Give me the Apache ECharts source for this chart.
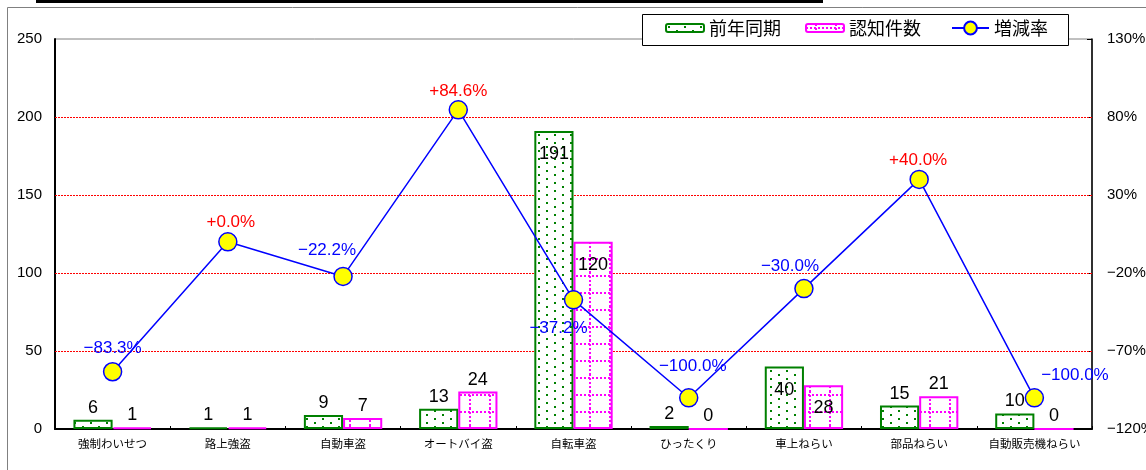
<!DOCTYPE html>
<html><head><meta charset="utf-8">
<script src="https://cdn.jsdelivr.net/npm/echarts@6/dist/echarts.min.js"></script>
<style>html,body{margin:0;padding:0;background:#fff;}#c{width:1146px;height:470px;}</style>
</head><body><div id="c"></div>
<script>
const categories = ['強制わいせつ','路上強盗','自動車盗','オートバイ盗','自転車盗','ひったくり','車上ねらい','部品ねらい','自動販売機ねらい'];
const prevYear = [6, 1, 9, 13, 191, 2, 40, 15, 10];
const recognized = [1, 1, 7, 24, 120, 0, 28, 21, 0];
const changeRate = [-83.3, 0.0, -22.2, 84.6, -37.2, -100.0, -30.0, 40.0, -100.0];
const seriesNames = ['前年同期', '認知件数', '増減率'];
const leftTicks = [0, 50, 100, 150, 200, 250];

function greenPattern() {
  const c = document.createElement('canvas'); c.width = 16; c.height = 8;
  const g = c.getContext('2d');
  g.fillStyle = '#fff'; g.fillRect(0, 0, 16, 8);
  g.fillStyle = '#008000';
  g.fillRect(2, 2, 2, 2); g.fillRect(10, 6, 2, 2);
  return { image: c, repeat: 'repeat' };
}
function magentaPattern() {
  const c = document.createElement('canvas'); c.width = 20; c.height = 17;
  const g = c.getContext('2d');
  g.fillStyle = '#fff'; g.fillRect(0, 0, 20, 17);
  g.fillStyle = '#FF00FF';
  for (let y = 0; y < 17; y += 4) g.fillRect(9, y, 2, 2);
  for (let x = 0; x < 20; x += 4) g.fillRect(x, 3, 2, 2);
  return { image: c, repeat: 'repeat' };
}

const numFont = '"Liberation Sans", Arial, sans-serif';
const jpFont = '"Noto Sans CJK JP", sans-serif';

function fmtPct(v) {
  return (v >= 0 ? '+' : '\u2212') + Math.abs(v).toFixed(1) + '%';
}
const lineLabelCfg = [
  { position: 'top', offset: [0, 0] },
  { position: 'top', offset: [3, 4] },
  { position: 'top', offset: [-16, -3] },
  { position: 'top', offset: [0, 5] },
  { position: 'bottom', offset: [-15, 5] },
  { position: 'top', offset: [4, -8] },
  { position: 'top', offset: [-14, 1] },
  { position: 'top', offset: [-1, 4] },
  { position: 'right', offset: [-8, -22] }
];

function barData(arr) {
  return arr.map(v => ({
    value: v,
    label: v > 25 ? { position: 'insideTop', distance: 14 } : { position: 'top', distance: 3 }
  }));
}

const chart = echarts.init(document.getElementById('c'), null, { renderer: 'canvas' });
chart.setOption({
  animation: false,
  backgroundColor: '#fff',
  graphic: [
    { type: 'rect', z: 0, shape: { x: 36, y: 0, width: 787, height: 3 }, style: { fill: '#000' } },
    { type: 'rect', z: 0, shape: { x: 7.5, y: 7.5, width: 1300, height: 600 }, style: { fill: 'none', stroke: '#808080', lineWidth: 1 } },
    { type: 'rect', z: 5, shape: { x: 642.5, y: 14.5, width: 426, height: 31 }, style: { fill: '#fff', stroke: '#000', lineWidth: 1 } }
  ],
  legend: [
    {
      z: 10, left: 665, top: 19, padding: 0, itemWidth: 38, itemHeight: 8, itemGap: 24,
      data: [seriesNames[0], seriesNames[1]],
      textStyle: { fontFamily: jpFont, fontSize: 18, color: '#000' }
    },
    {
      z: 10, left: 951, top: 19, padding: 0, itemWidth: 37, itemHeight: 16,
      data: [seriesNames[2]],
      textStyle: { fontFamily: jpFont, fontSize: 18, color: '#000' }
    }
  ],
  grid: { left: 55, right: 54, top: 39, bottom: 41, outerBoundsMode: 'none', containLabel: false,
    show: true, borderColor: '#808080', borderWidth: 1, backgroundColor: 'transparent' },
  xAxis: {
    type: 'category', data: categories,
    axisLine: { lineStyle: { color: '#000', width: 2 } },
    axisTick: { show: true, inside: true, length: 3, lineStyle: { color: '#000' } },
    axisLabel: { fontFamily: jpFont, fontSize: 11.5, color: '#000', margin: 9, interval: 0 },
    splitLine: { show: false }
  },
  yAxis: [
    {
      type: 'value', min: leftTicks[0], max: leftTicks[leftTicks.length - 1], interval: 50,
      axisLine: { show: true, lineStyle: { color: '#000', width: 2 } },
      axisTick: { show: false },
      axisLabel: { fontFamily: numFont, fontSize: 15, color: '#000', margin: 13 },
      splitLine: { show: false }
    },
    {
      type: 'value', min: -120, max: 130, interval: 50,
      axisLine: { show: true, lineStyle: { color: '#000', width: 1.5 } },
      axisTick: { show: true, inside: true, length: 5, lineStyle: { color: '#000' } },
      axisLabel: { fontFamily: numFont, fontSize: 15, color: '#000', margin: 15,
        formatter: v => String(v).replace('-', '\u2212') + '%' },
      splitLine: { show: false }
    }
  ],
  series: [
    {
      name: seriesNames[0], type: 'bar', yAxisIndex: 0, data: barData(prevYear),
      barGap: '0%', barCategoryGap: '32%',
      itemStyle: { color: greenPattern(), borderColor: '#008000', borderWidth: 2 },
      label: { show: true, color: '#000', fontFamily: numFont, fontSize: 18 },
      markLine: {
        silent: true, symbol: 'none', z: 1, animation: false,
        label: { show: false },
        lineStyle: { color: '#FF0000', type: [2, 1], width: 1 },
        emphasis: { disabled: true },
        data: leftTicks.slice(1, -1).map(t => ({ yAxis: t }))
      }
    },
    {
      name: seriesNames[1], type: 'bar', yAxisIndex: 0, data: barData(recognized),
      itemStyle: { color: magentaPattern(), borderColor: '#FF00FF', borderWidth: 2 },
      label: { show: true, color: '#000', fontFamily: numFont, fontSize: 18 }
    },
    {
      name: seriesNames[2], type: 'line', yAxisIndex: 1, z: 4,
      data: changeRate.map((v, i) => ({
        value: v,
        label: {
          position: lineLabelCfg[i].position, offset: lineLabelCfg[i].offset,
          color: v >= 0 ? '#FF0000' : '#0000FF'
        }
      })),
      symbol: 'circle', symbolSize: 18,
      lineStyle: { color: '#0000FF', width: 1.5 },
      itemStyle: { color: '#FFFF00', borderColor: '#0000FF', borderWidth: 1.5 },
      label: { show: true, fontFamily: numFont, fontSize: 17, distance: 5, formatter: p => fmtPct(p.value) }
    }
  ]
});
</script></body></html>
